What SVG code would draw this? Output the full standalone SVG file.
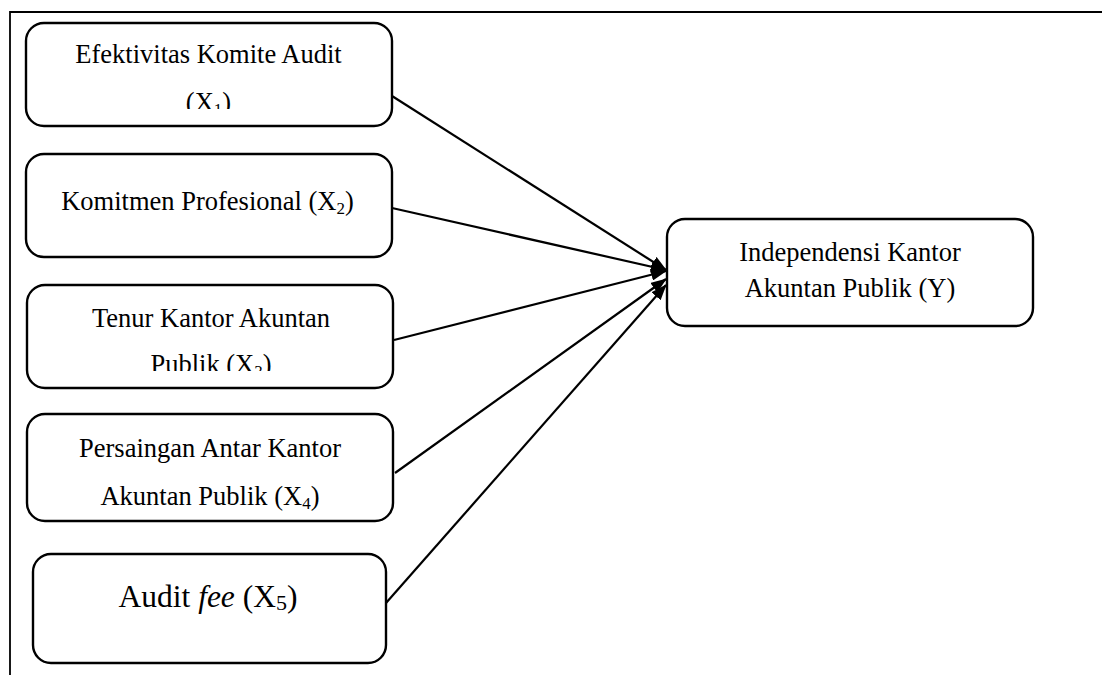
<svg xmlns="http://www.w3.org/2000/svg" width="1102" height="675" viewBox="0 0 1102 675">
<style>
.box{fill:#fff;stroke:#000;stroke-width:2.4}
.t{font-family:"Liberation Serif","Times New Roman",serif;font-size:26.5px;fill:#000;text-anchor:middle}
.big{font-size:31.5px}
.edge{stroke:#000;stroke-width:2.2;fill:none;marker-end:url(#ah)}
.frame{stroke:#000;stroke-width:1.8;fill:none}
</style>
<defs>
<marker id="ah" viewBox="0 0 16 12" refX="15" refY="6" markerWidth="16" markerHeight="12" markerUnits="userSpaceOnUse" orient="auto">
<path d="M0,0 L16,6 L0,12 z" fill="#000"/>
</marker>
<clipPath id="c1"><rect x="0" y="0" width="420" height="109"/></clipPath>
<clipPath id="c3"><rect x="0" y="280" width="420" height="91"/></clipPath>
</defs>
<g id="frame"><path class="frame" d="M10,675 L10,12 L1102,12"/></g>
<g id="connectors">
<line class="edge" x1="392" y1="96" x2="666" y2="270"/>
<line class="edge" x1="392" y1="208" x2="666" y2="270"/>
<line class="edge" x1="394" y1="340" x2="666" y2="271"/>
<line class="edge" x1="395" y1="473" x2="666" y2="279"/>
<line class="edge" x1="386" y1="603" x2="666" y2="285"/>
</g>
<g id="x1">
<rect class="box" x="26" y="23" width="366" height="103" rx="18"/>
<text class="t" x="208.5" y="63">Efektivitas Komite Audit</text>
<text class="t" x="208.5" y="111" clip-path="url(#c1)">(X<tspan font-size="17" dy="4">1</tspan><tspan dy="-4">)</tspan></text>
</g>
<g id="x2">
<rect class="box" x="26" y="154" width="366" height="103" rx="18"/>
<text class="t" x="207.5" y="210">Komitmen Profesional (X<tspan font-size="17" dy="4">2</tspan><tspan dy="-4">)</tspan></text>
</g>
<g id="x3">
<rect class="box" x="27" y="285" width="366" height="103" rx="18"/>
<text class="t" x="211" y="327">Tenur Kantor Akuntan</text>
<text class="t" x="211" y="373" clip-path="url(#c3)">Publik (X<tspan font-size="17" dy="4">3</tspan><tspan dy="-4">)</tspan></text>
</g>
<g id="x4">
<rect class="box" x="27" y="414" width="366" height="107" rx="18"/>
<text class="t" x="210" y="457">Persaingan Antar Kantor</text>
<text class="t" x="210" y="505">Akuntan Publik (X<tspan font-size="17" dy="4">4</tspan><tspan dy="-4">)</tspan></text>
</g>
<g id="x5">
<rect class="box" x="33" y="554" width="353" height="109" rx="18"/>
<text class="t big" x="208" y="607">Audit <tspan font-style="italic">fee</tspan> (X<tspan font-size="22" dy="3">5</tspan><tspan dy="-3">)</tspan></text>
</g>
<g id="y">
<rect class="box" x="667" y="219" width="366" height="107" rx="18"/>
<text class="t" x="850" y="261">Independensi Kantor</text>
<text class="t" x="850" y="297">Akuntan Publik (Y)</text>
</g>
</svg>
